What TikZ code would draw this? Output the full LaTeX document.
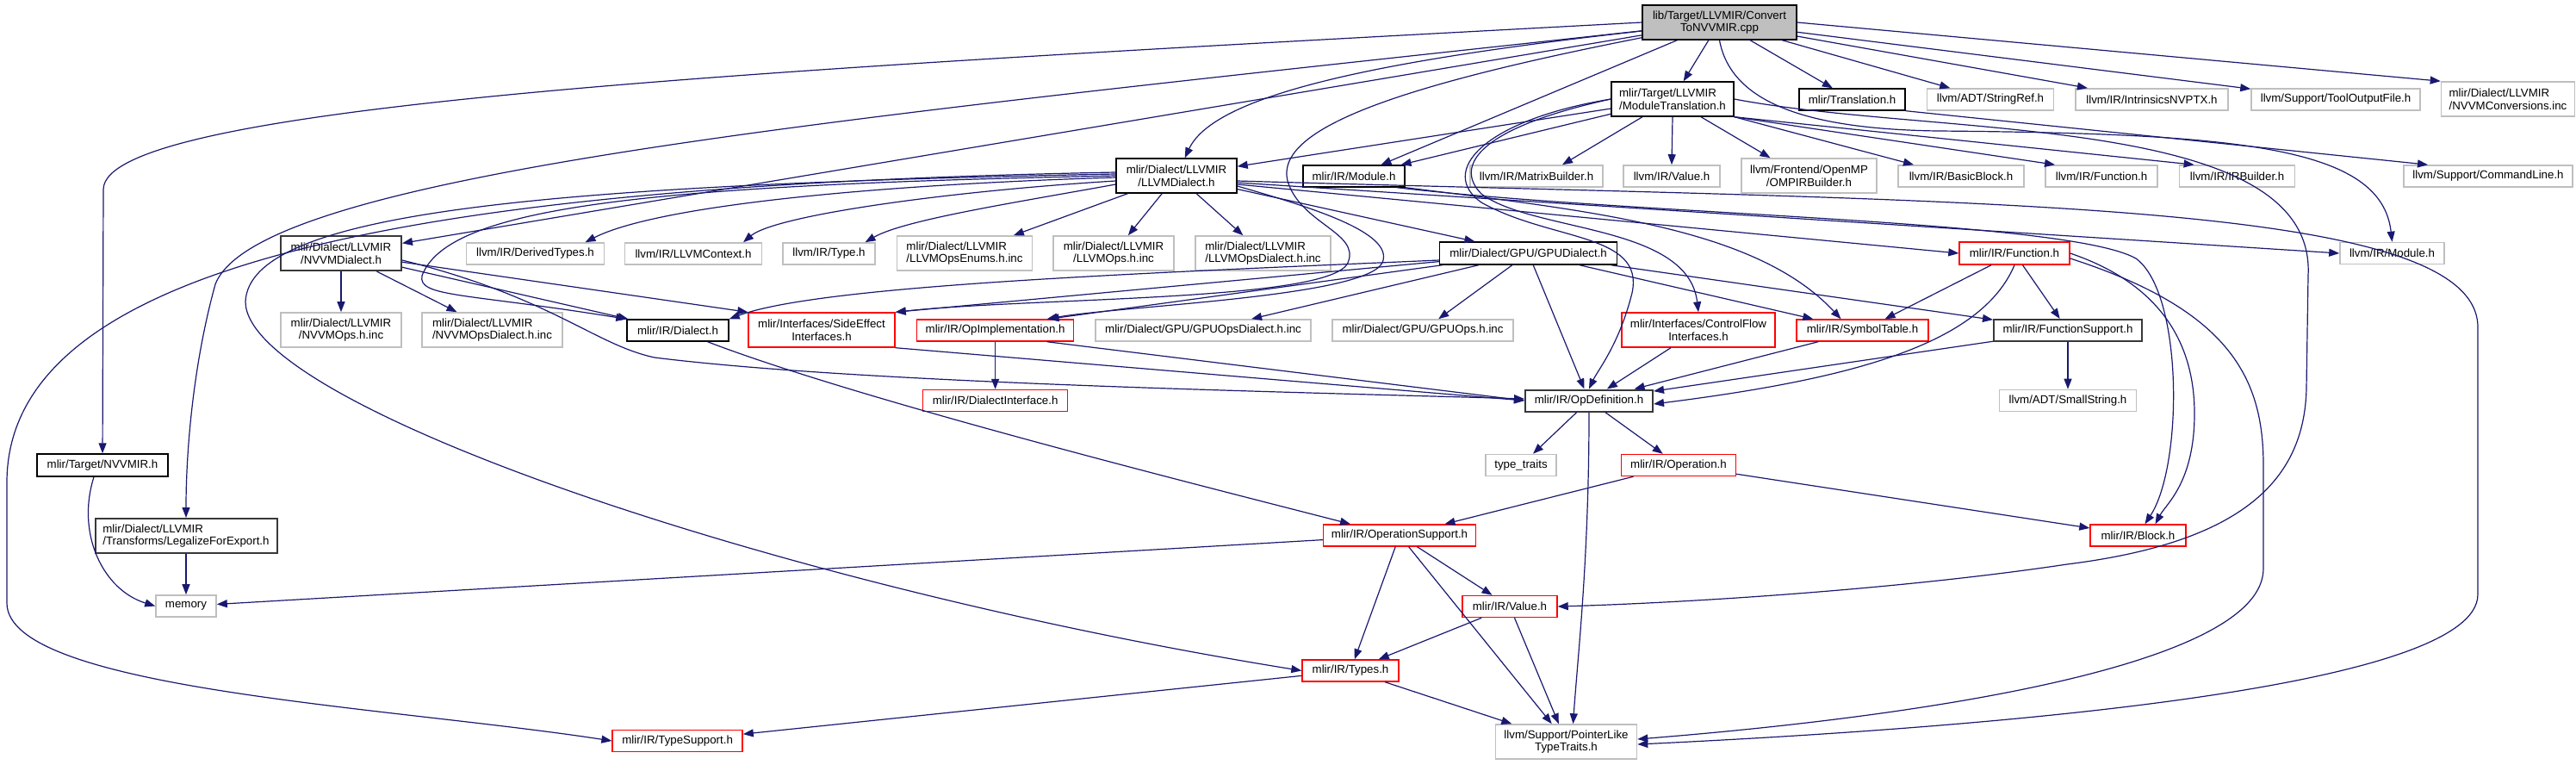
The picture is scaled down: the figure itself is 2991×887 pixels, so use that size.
\documentclass[tikz,border=0pt]{standalone}
\usepackage{fontspec}
\setmainfont{Liberation Sans}
\usepackage{tikz}
\usetikzlibrary{calc, arrows.meta}
\definecolor{edgeblue}{HTML}{191970}
\definecolor{extgray}{HTML}{BFBFBF}

\begin{document}
\begin{tikzpicture}[x=1pt, y=-1pt,
    box/.style={draw, rectangle, fill=white, inner sep=0pt, minimum height=25pt,
        font=\fontsize{13.3}{14.5}\selectfont},
    doc/.style={box, draw=black, line width=1.4pt},
    dark/.style={box, draw=black!78, line width=2pt},
    ext/.style={box, draw=extgray, line width=1.6pt},
    trunc/.style={box, draw=red, line width=1.4pt},
    edge/.style={draw=edgeblue, line width=1.2pt,
        -{Triangle[length=12pt, width=9pt]}}]

    \useasboundingbox (0,0) rectangle (2991,887);

    % the file itself
    \node[doc, fill=extgray, minimum width=179pt, minimum height=40pt, align=center]
        (root) at (1996.5,26) {lib/Target/LLVMIR/Convert\\ToNVVMIR.cpp};

    % first row
    \node[doc, minimum width=142pt, minimum height=40pt, align=left]
        (modtr) at (1942,115) {mlir/Target/LLVMIR\\/ModuleTranslation.h};
    \node[doc, minimum width=123pt] (transl) at (2150.5,115.5) {mlir/Translation.h};
    \node[ext, minimum width=147pt] (strref) at (2311,115.5) {llvm/ADT/StringRef.h};
    \node[ext, minimum width=177pt] (intrin) at (2498.5,115.5) {llvm/IR/IntrinsicsNVPTX.h};
    \node[ext, minimum width=196pt] (toolout) at (2712,115.5) {llvm/Support/ToolOutputFile.h};
    \node[ext, minimum width=155pt, minimum height=40pt, align=left]
        (nvvmconv) at (2912,115) {mlir/Dialect/LLVMIR\\/NVVMConversions.inc};

    % second row
    \node[doc, minimum width=140pt, minimum height=40pt, align=center]
        (llvmdia) at (1366,204) {mlir/Dialect/LLVMIR\\/LLVMDialect.h};
    \node[doc, minimum width=118pt] (mmodule) at (1572,204.5) {mlir/IR/Module.h};
    \node[ext, minimum width=154pt] (matrix) at (1784,204.5) {llvm/IR/MatrixBuilder.h};
    \node[ext, minimum width=112pt] (llvalue) at (1941,204.5) {llvm/IR/Value.h};
    \node[ext, minimum width=157pt, minimum height=40pt, align=center]
        (omp) at (2100.5,204) {llvm/Frontend/OpenMP\\/OMPIRBuilder.h};
    \node[ext, minimum width=146pt] (basicb) at (2277,204.5) {llvm/IR/BasicBlock.h};
    \node[ext, minimum width=130pt] (llfunc) at (2440,204.5) {llvm/IR/Function.h};
    \node[ext, minimum width=134pt] (irbuild) at (2597.6,204.5) {llvm/IR/IRBuilder.h};
    \node[ext, minimum width=196pt] (cmdline) at (2889,204.5) {llvm/Support/CommandLine.h};

    % third row
    \node[dark, minimum width=140pt, minimum height=40pt, align=center]
        (nvvmdia) at (396,294) {mlir/Dialect/LLVMIR\\/NVVMDialect.h};
    \node[ext, minimum width=160pt] (derived) at (621.5,294.5) {llvm/IR/DerivedTypes.h};
    \node[ext, minimum width=159pt] (llvmctx) at (805,294.5) {llvm/IR/LLVMContext.h};
    \node[ext, minimum width=107pt] (lltype) at (962.5,294.5) {llvm/IR/Type.h};
    \node[ext, minimum width=157pt, minimum height=40pt, align=left]
        (opsenum) at (1120,294) {mlir/Dialect/LLVMIR\\/LLVMOpsEnums.h.inc};
    \node[ext, minimum width=140pt, minimum height=40pt, align=center]
        (llvmops) at (1293,294) {mlir/Dialect/LLVMIR\\/LLVMOps.h.inc};
    \node[ext, minimum width=157pt, minimum height=40pt, align=left]
        (opsdia) at (1466.5,294) {mlir/Dialect/LLVMIR\\/LLVMOpsDialect.h.inc};
    \node[doc, minimum width=206pt, minimum height=26pt] (gpudia) at (1774.6,294) {mlir/Dialect/GPU/GPUDialect.h};
    \node[trunc, minimum width=128pt, minimum height=26pt] (mfunc) at (2339,294) {mlir/IR/Function.h};
    \node[ext, minimum width=121pt] (llmodule) at (2777.5,294) {llvm/IR/Module.h};

    % fourth row
    \node[ext, minimum width=140pt, minimum height=40pt, align=center]
        (nvvmops) at (396,383) {mlir/Dialect/LLVMIR\\/NVVMOps.h.inc};
    \node[ext, minimum width=163pt, minimum height=40pt, align=left]
        (nvvmopsdia) at (571.5,383) {mlir/Dialect/LLVMIR\\/NVVMOpsDialect.h.inc};
    \node[doc, minimum width=118pt] (dialect) at (787,383.5) {mlir/IR/Dialect.h};
    \node[trunc, minimum width=170pt, minimum height=40pt, align=center]
        (sideeff) at (954,383) {mlir/Interfaces/SideEffect\\Interfaces.h};
    \node[trunc, minimum width=182pt] (opimpl) at (1155.6,383.5) {mlir/IR/OpImplementation.h};
    \node[ext, minimum width=250pt] (gpuopsdia) at (1397,383.5) {mlir/Dialect/GPU/GPUOpsDialect.h.inc};
    \node[ext, minimum width=210pt] (gpuops) at (1652,383.5) {mlir/Dialect/GPU/GPUOps.h.inc};
    \node[trunc, minimum width=178pt, minimum height=40pt, align=center]
        (ctrlflow) at (1972,383) {mlir/Interfaces/ControlFlow\\Interfaces.h};
    \node[trunc, minimum width=153pt] (symtab) at (2162.5,383.5) {mlir/IR/SymbolTable.h};
    \node[dark, minimum width=172pt] (funcsup) at (2401,383.5) {mlir/IR/FunctionSupport.h};

    % lower part
    \node[trunc, minimum width=168pt] (dialint) at (1155.6,465) {mlir/IR/DialectInterface.h};
    \node[dark, minimum width=148pt] (opdef) at (1845,465) {mlir/IR/OpDefinition.h};
    \node[ext, minimum width=159pt] (smallstr) at (2401,465) {llvm/ADT/SmallString.h};

    \node[doc, minimum width=152pt, minimum height=26pt] (tnvvmir) at (119,540) {mlir/Target/NVVMIR.h};
    \node[ext, minimum width=82pt] (typetr) at (1766,540) {type\_traits};
    \node[trunc, minimum width=133pt] (operation) at (1949,540) {mlir/IR/Operation.h};

    \node[dark, minimum width=211pt, minimum height=40pt, align=left]
        (legal) at (216,622) {mlir/Dialect/LLVMIR\\/Transforms/LegalizeForExport.h};
    \node[trunc, minimum width=177pt] (opsupp) at (1625,621.5) {mlir/IR/OperationSupport.h};
    \node[trunc, minimum width=111pt] (block) at (2482.5,621.5) {mlir/IR/Block.h};

    \node[ext, minimum width=70pt] (memory) at (216,703.5) {memory};
    \node[trunc, minimum width=110pt] (mvalue) at (1753,704) {mlir/IR/Value.h};
    \node[trunc, minimum width=112pt] (types) at (1568,778.5) {mlir/IR/Types.h};
    \node[trunc, minimum width=151pt] (typesupp) at (786.6,860) {mlir/IR/TypeSupport.h};
    \node[ext, minimum width=164pt, minimum height=40pt, align=center]
        (ptrlike) at (1818.5,861) {llvm/Support/PointerLike\\TypeTraits.h};

    % includes of the file itself
    \draw[edge] (root) -- (modtr);
    \draw[edge] (root) -- (transl);
    \draw[edge] (root) -- (strref);
    \draw[edge] (root) -- (intrin);
    \draw[edge] (root) -- (toolout);
    \draw[edge] (root.east) -- (nvvmconv.north west);
    \draw[edge] (root) .. controls (1600,70) and (1410,110) .. (llvmdia);
    \draw[edge] (root) -- (mmodule);
    \draw[edge] (root) -- (nvvmdia);
    \draw[edge] (root.west) .. controls (900,80) and (120,120) .. (120,220) -- (tnvvmir);
    \draw[edge] (root) .. controls (1000,135) and (300,200) .. (250,330)
        .. controls (225,420) and (216,520) .. (legal);
    \draw[edge] (root) .. controls (1620,100) and (1480,150) .. (1495,210)
        .. controls (1510,260) and (1580,270) .. (1565,305)
        .. controls (1545,350) and (1200,345) .. (sideeff.north east);
    \draw[edge] (root.south) .. controls (2010,120) and (2100,150) .. (2250,152)
        .. controls (2600,155) and (2765,170) .. (llmodule.north);

    % ModuleTranslation.h
    \draw[edge] (modtr) -- (llvmdia);
    \draw[edge] (modtr) -- (mmodule);
    \draw[edge] ([xshift=-35pt]modtr.south) -- ([xshift=30pt]matrix.north);
    \draw[edge] (modtr.south) -- (llvalue.north);
    \draw[edge] ([xshift=33pt]modtr.south) -- ([xshift=-45pt]omp.north);
    \draw[edge] (modtr.south east) -- ([xshift=-55pt]basicb.north);
    \draw[edge] (modtr.south east) -- ([xshift=-54pt]llfunc.north);
    \draw[edge] (modtr.south east) -- ([xshift=-50pt]irbuild.north);
    \draw[edge] (modtr.west) .. controls (1720,140) and (1670,200) .. (1720,235)
        .. controls (1800,280) and (1910,270) .. (1895,340)
        .. controls (1880,400) and (1855,430) .. (opdef.north);
    \draw[edge] (modtr.west) .. controls (1710,150) and (1690,195) .. (1720,225)
        .. controls (1780,270) and (1960,260) .. (ctrlflow.north);
    \draw[edge] (modtr.east) .. controls (2250,160) and (2690,130) .. (2680,320)
        -- (2678,450) .. controls (2676,560) and (2600,630) .. (2400,655)
        .. controls (2200,685) and (1950,700) .. (mvalue.east);

    \draw[edge] (transl.south east) -- ([xshift=-70pt]cmdline.north);

    % LLVMDialect.h
    \draw[edge] (llvmdia) -- (opsenum);
    \draw[edge] (llvmdia) -- (llvmops);
    \draw[edge] (llvmdia) -- (opsdia);
    \draw[edge] (llvmdia) -- (gpudia);
    \draw[edge] ([yshift=-2pt]llvmdia.west) .. controls (1000,215) and (760,240) .. ([xshift=58pt]derived.north);
    \draw[edge] ([yshift=-6pt]llvmdia.west) .. controls (1100,222) and (900,250) .. ([xshift=58pt]llvmctx.north);
    \draw[edge] ([yshift=-10pt]llvmdia.west) .. controls (1180,235) and (1050,255) .. ([xshift=42pt]lltype.north);
    \draw[edge] (llvmdia.west) .. controls (750,215) and (520,240) .. (490,320)
        .. controls (485,345) and (540,340) .. (dialect.north west);
    \draw[edge] ([yshift=4pt]llvmdia.west) .. controls (500,215) and (8,300) .. (8,560)
        -- (8,700) .. controls (8,800) and (450,820) .. (typesupp.west);
    \draw[edge] ([yshift=2pt]llvmdia.west) .. controls (600,215) and (290,250) .. (285,350)
        .. controls (285,470) and (900,680) .. (types.west);
    \draw[edge] ([yshift=-12pt]llvmdia.east) .. controls (1520,240) and (1620,270) .. (1605,305)
        .. controls (1585,345) and (1300,355) .. ([xshift=60pt]opimpl.north);
    \draw[edge] ([yshift=-8pt]llvmdia.east) -- (llmodule.west);
    \draw[edge] ([yshift=-10pt]llvmdia.east) -- (mfunc.west);
    \draw[edge] ([yshift=-6pt]llvmdia.east) .. controls (2300,235) and (2877,230) .. (2877,380)
        -- (2877,690) .. controls (2877,800) and (2300,845) .. ([yshift=-3pt]ptrlike.east);

    % Module.h and Function.h
    \draw[edge] (mmodule.south east) .. controls (1850,245) and (2040,265) .. ([xshift=-25pt]symtab.north);
    \draw[edge] ([xshift=-10pt]mmodule.south east) .. controls (1900,250) and (2400,255) .. (2480,300)
        .. controls (2535,340) and (2535,540) .. ([xshift=8pt]block.north);
    \draw[edge] (mfunc.east) .. controls (2510,330) and (2548,400) .. (2548,480)
        .. controls (2548,560) and (2515,585) .. ([xshift=20pt]block.north);
    \draw[edge] ([yshift=-6pt]mfunc.east) .. controls (2590,360) and (2628,440) .. (2628,540)
        -- (2628,660) .. controls (2628,770) and (2250,830) .. ([yshift=3pt]ptrlike.east);
    \draw[edge] (mfunc) -- (symtab);
    \draw[edge] (mfunc) -- (funcsup);
    \draw[edge] (mfunc.south) .. controls (2300,400) and (2150,440) .. ([yshift=-4pt]opdef.east);

    % GPUDialect.h
    \draw[edge] ([yshift=-8pt]gpudia.west) .. controls (1300,318) and (950,332) .. (dialect.north east);
    \draw[edge] (gpudia) -- (sideeff.north east);
    \draw[edge] (gpudia) -- ([xshift=62pt]opimpl.north);
    \draw[edge] (gpudia) -- (gpuopsdia);
    \draw[edge] (gpudia) -- (gpuops);
    \draw[edge] (gpudia) -- (opdef);
    \draw[edge] (gpudia) -- (symtab);
    \draw[edge] (gpudia) -- (funcsup);

    % NVVMDialect.h
    \draw[edge] (nvvmdia) -- (nvvmops);
    \draw[edge] (nvvmdia) -- (nvvmopsdia);
    \draw[edge] (nvvmdia) -- (dialect);
    \draw[edge] (nvvmdia) -- (sideeff.north west);
    \draw[edge] ([yshift=-8pt]nvvmdia.east) .. controls (640,345) and (690,400) .. (760,415)
        .. controls (1000,445) and (1500,455) .. ([yshift=2pt]opdef.west);

    % the rest
    \draw[edge] (dialect) .. controls (1000,465) and (1400,565) .. ([xshift=-57pt]opsupp.north);
    \draw[edge] (sideeff.south east) -- (opdef.west);
    \draw[edge] ([xshift=60pt]opimpl.south) -- (opdef.west);
    \draw[edge] (opimpl) -- (dialint);
    \draw[edge] (ctrlflow) -- (opdef);
    \draw[edge] (symtab) -- (opdef);
    \draw[edge] (funcsup) -- (opdef);
    \draw[edge] (funcsup) -- (smallstr);

    \draw[edge] (opdef) -- (typetr);
    \draw[edge] (opdef) -- (operation);
    \draw[edge] (opdef.south) .. controls (1845,650) and (1832,760) .. ([xshift=8pt]ptrlike.north);
    \draw[edge] (operation) -- (opsupp);
    \draw[edge] (operation) -- (block);

    \draw[edge] (opsupp) -- (memory);
    \draw[edge] (opsupp) -- (types);
    \draw[edge] (opsupp) -- (ptrlike);
    \draw[edge] (opsupp) -- (mvalue);
    \draw[edge] (mvalue) -- (types);
    \draw[edge] (mvalue) -- (ptrlike);
    \draw[edge] (types) -- (ptrlike);
    \draw[edge] (types) -- (typesupp);

    \draw[edge] ([xshift=-10pt]tnvvmir.south) .. controls (88,620) and (120,685) .. (memory.west);
    \draw[edge] (legal) -- (memory);
\end{tikzpicture}
\end{document}
